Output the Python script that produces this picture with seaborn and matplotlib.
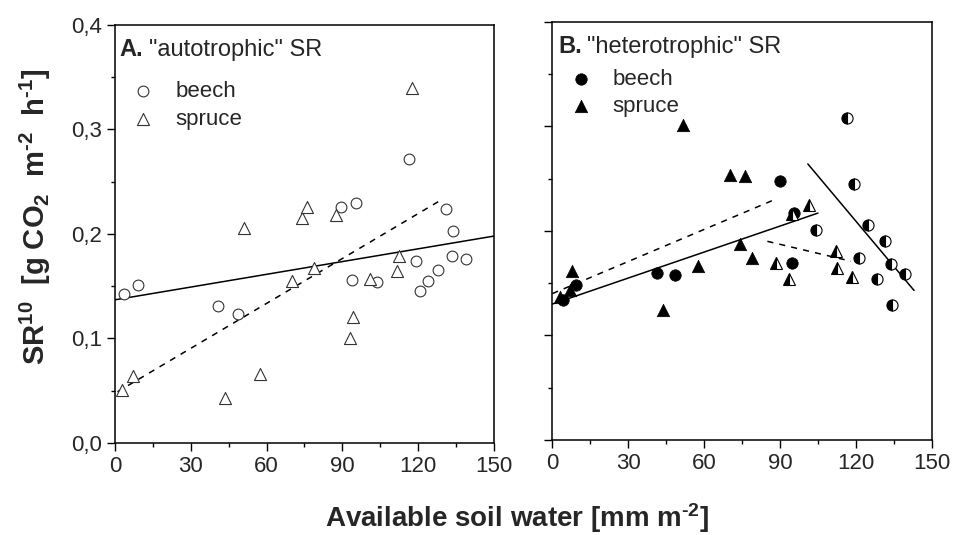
import matplotlib
matplotlib.use("Agg")
import matplotlib.pyplot as plt
import seaborn as sns
import numpy as np

# ---------------- data ----------------
# Panel A: "autotrophic" SR
a_beech_x = [3.6, 9.0, 40.9, 48.8, 89.6, 95.3, 94.0, 103.7, 116.3, 119.3, 120.6, 123.9, 127.9, 131.1, 133.8, 133.4, 138.8]
a_beech_y = [0.143, 0.151, 0.131, 0.123, 0.226, 0.230, 0.156, 0.154, 0.272, 0.174, 0.145, 0.155, 0.166, 0.224, 0.203, 0.179, 0.176]
a_spruce_x = [2.6, 7.3, 43.5, 57.3, 51.1, 69.9, 74.2, 76.0, 78.8, 87.6, 93.2, 94.2, 101.1, 111.8, 112.4, 117.7]
a_spruce_y = [0.051, 0.064, 0.043, 0.066, 0.206, 0.155, 0.215, 0.226, 0.167, 0.218, 0.100, 0.121, 0.157, 0.165, 0.179, 0.340]
a_fit_solid_x = [0, 150]
a_fit_solid_y = [0.137, 0.198]
a_fit_dash_x = [1, 128]
a_fit_dash_y = [0.049, 0.231]

# Panel B: "heterotrophic" SR
b_beech_x = [4.1, 9.4, 41.3, 48.6, 89.8, 94.6, 95.7]
b_beech_y = [0.134, 0.148, 0.160, 0.158, 0.248, 0.169, 0.217]
b_beech_half_x = [104.1, 116.6, 119.3, 121.3, 124.6, 131.5, 128.2, 133.8, 134.2, 139.4]
b_beech_half_y = [0.201, 0.308, 0.245, 0.174, 0.206, 0.190, 0.154, 0.168, 0.129, 0.159]
b_spruce_x = [3.0, 7.0, 7.6, 43.9, 51.5, 57.5, 70.3, 76.2, 74.2, 79.1]
b_spruce_y = [0.137, 0.143, 0.162, 0.124, 0.301, 0.166, 0.253, 0.252, 0.187, 0.174]
b_spruce_half_x = [88.3, 93.7, 94.9, 101.5, 112.0, 112.4, 118.4]
b_spruce_half_y = [0.169, 0.154, 0.216, 0.225, 0.181, 0.164, 0.156]
b_fit_dash1_x = [0, 87]
b_fit_dash1_y = [0.140, 0.229]
b_fit_solid1_x = [0, 105]
b_fit_solid1_y = [0.130, 0.217]
b_fit_dash2_x = [85, 118]
b_fit_dash2_y = [0.190, 0.171]
b_fit_solid2_x = [101, 143]
b_fit_solid2_y = [0.264, 0.143]

xticks = [0, 30, 60, 90, 120, 150]
xtick_labels = ["0", "30", "60", "90", "120", "150"]
yticks = [0.0, 0.1, 0.2, 0.3, 0.4]
ytick_labels = ["0,0", "0,1", "0,2", "0,3", "0,4"]

# ---------------- style ----------------
sns.set_style("ticks")
plt.rcParams["font.family"] = ["Liberation Sans", "DejaVu Sans"]
plt.rcParams["mathtext.fontset"] = "custom"
plt.rcParams["mathtext.rm"] = "Liberation Sans:bold"
plt.rcParams["mathtext.bf"] = "Liberation Sans:bold"
plt.rcParams["mathtext.it"] = "Liberation Sans:bold"
plt.rcParams["mathtext.default"] = "bf"

fig = plt.figure(figsize=(9.54, 5.35), dpi=100)
axA = fig.add_axes([0.1205, 0.172, 0.3973, 0.7813])
axB = fig.add_axes([0.579, 0.1776, 0.3977, 0.7818])

TICK_FS = 16
for ax in (axA, axB):
    ax.set_xlim(0, 150)
    ax.set_ylim(0, 0.4)
    ax.set_xticks(xticks)
    ax.set_xticklabels(xtick_labels, fontsize=TICK_FS)
    ax.set_xticks(np.arange(15, 150, 30), minor=True)
    ax.set_yticks(yticks)
    ax.set_yticks(np.arange(0.05, 0.4, 0.1), minor=True)
    ax.tick_params(axis="both", which="major", direction="out", length=5.5, width=1.0, color="black")
    ax.tick_params(axis="both", which="minor", direction="out", length=3, width=1.0, color="black")
    ax.tick_params(axis="x", which="major", pad=4)
    ax.tick_params(axis="y", which="major", pad=3.5)
    for s in ax.spines.values():
        s.set_linewidth(1.1)
        s.set_color("black")
        s.set_visible(True)
    ax.set_xlabel("")
    ax.set_ylabel("")

axA.set_yticklabels(ytick_labels, fontsize=TICK_FS)
axB.set_yticklabels([])

MS_C = 60
MS_T = 75

# ---------------- panel A ----------------
sns.lineplot(x=a_fit_solid_x, y=a_fit_solid_y, color="black", linewidth=1.1, ax=axA, legend=False)
sns.lineplot(x=a_fit_dash_x, y=a_fit_dash_y, color="black", linewidth=1.1, ax=axA, legend=False,
             linestyle=(0, (4, 4)))
sns.scatterplot(x=a_beech_x, y=a_beech_y, marker="o", s=MS_C, color="white", edgecolor="#333333",
                linewidth=0.8, ax=axA, label="beech", zorder=3)
sns.scatterplot(x=a_spruce_x, y=a_spruce_y, marker="^", s=MS_T, color="white", edgecolor="#333333",
                linewidth=0.8, ax=axA, label="spruce", zorder=3)

# ---------------- panel B ----------------
sns.lineplot(x=b_fit_dash1_x, y=b_fit_dash1_y, color="black", linewidth=1.1, ax=axB, legend=False,
             linestyle=(0, (4, 4)))
sns.lineplot(x=b_fit_solid1_x, y=b_fit_solid1_y, color="black", linewidth=1.1, ax=axB, legend=False)
sns.lineplot(x=b_fit_dash2_x, y=b_fit_dash2_y, color="black", linewidth=1.1, ax=axB, legend=False,
             linestyle=(0, (4, 4)))
sns.lineplot(x=b_fit_solid2_x, y=b_fit_solid2_y, color="black", linewidth=1.1, ax=axB, legend=False)
sns.scatterplot(x=b_beech_x, y=b_beech_y, marker="o", s=MS_C + 8, color="black", edgecolor="black",
                linewidth=0.5, ax=axB, label="beech", zorder=3)
sns.scatterplot(x=b_spruce_x, y=b_spruce_y, marker="^", s=MS_T + 5, color="black", edgecolor="black",
                linewidth=0.5, ax=axB, label="spruce", zorder=3)
axB.plot(b_beech_half_x, b_beech_half_y, linestyle="none", marker="o", markersize=8.0,
         fillstyle="left", markerfacecolor="black", markerfacecoloralt="white",
         markeredgecolor="black", markeredgewidth=0.8, zorder=4)
axB.plot(b_spruce_half_x, b_spruce_half_y, linestyle="none", marker="^", markersize=8.5,
         fillstyle="left", markerfacecolor="black", markerfacecoloralt="white",
         markeredgecolor="black", markeredgewidth=0.8, zorder=4)

# ---------------- legends ----------------
for ax, anchor in ((axA, (0.045, 0.866)), (axB, (0.045, 0.888))):
    leg = ax.legend(loc="upper left", bbox_to_anchor=anchor, frameon=False, fontsize=16,
                    borderpad=0, borderaxespad=0, handlelength=1.0, handletextpad=0.95,
                    labelspacing=0.3)

# ---------------- panel titles ----------------
def panel_title(ax, bold, rest, x, y):
    t = ax.text(x, y, bold, transform=ax.transAxes, fontsize=17, fontweight="bold",
                va="baseline", ha="left")
    ax.annotate(rest, xy=(1, 0), xycoords=t, xytext=(4, 0), textcoords="offset points",
                fontsize=17, va="bottom", ha="left")

panel_title(axA, "A.", '"autotrophic" SR', 0.013, 0.925)
panel_title(axB, "B.", '"heterotrophic" SR', 0.015, 0.926)

# ---------------- axis labels ----------------
fig.text(0.542, 0.032, r"Available soil water [mm m$^{\text{-}2}$]", fontsize=20, fontweight="bold",
         ha="center", va="center")
fig.text(0.037, 0.594, r"SR$^{10}$  [g CO$_2$  m$^{\text{-}2}$  h$^{\text{-}1}$]", fontsize=21,
         fontweight="bold", ha="center", va="center", rotation=90)

fig.savefig("out.png", dpi=100)
